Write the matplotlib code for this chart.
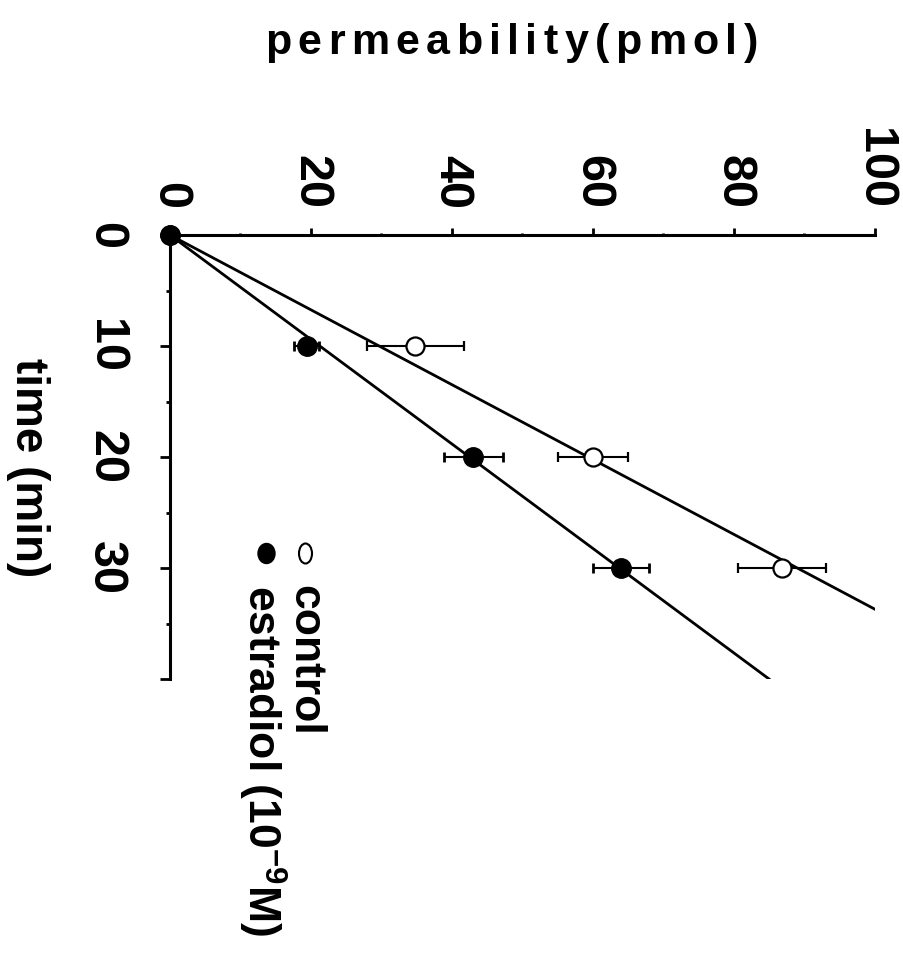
import numpy as np
import matplotlib
matplotlib.use("Agg")
import matplotlib.pyplot as plt
from matplotlib.markers import MarkerStyle
from matplotlib.transforms import Affine2D

plt.rcParams['font.family'] = ['Liberation Sans', 'DejaVu Sans']
plt.rcParams['font.weight'] = 'bold'
plt.rcParams['mathtext.fontset'] = 'custom'
plt.rcParams['mathtext.rm'] = 'Liberation Sans:bold'
plt.rcParams['mathtext.it'] = 'Liberation Sans:bold'
plt.rcParams['mathtext.bf'] = 'Liberation Sans:bold'

# data (time in min, permeability in pmol)
time_min = [0, 10, 20, 30]
control = [0, 34.8, 60.0, 86.8]
control_err = [0, 6.9, 5.0, 6.3]
estradiol = [0, 19.4, 43.0, 64.0]
estradiol_err = [0, 1.8, 4.2, 4.0]
fit_time = [0, 40]

W, H = 904, 964
fig = plt.figure(figsize=(W / 100, H / 100), dpi=100)
ax = fig.add_axes([170 / W, 1 - 679 / H, 705 / W, 444 / H])

# regression lines through the origin
t = np.array(time_min, dtype=float)
ft = np.array(fit_time, dtype=float)
for vals in (control, estradiol):
    v = np.array(vals, dtype=float)
    slope = (t * v).sum() / (t * t).sum()
    ax.plot(slope * ft, ft, color='black', lw=2, zorder=2)

eb1 = ax.errorbar(control, time_min, xerr=control_err, fmt='o', mfc='white', mec='black',
                  mew=1.6, ms=13, ecolor='black', elinewidth=1.5, capsize=3.5, capthick=2,
                  zorder=3)
eb2 = ax.errorbar(estradiol, time_min, xerr=estradiol_err, fmt='o', mfc='black', mec='black',
                  ms=14, ecolor='black', elinewidth=1.5, capsize=3.5, capthick=2, zorder=4)
for eb in (eb1, eb2):
    eb.lines[0].set_clip_on(False)

ax.set_xlim(0, 100)
ax.set_ylim(40, 0)
for s in ('right', 'bottom'):
    ax.spines[s].set_visible(False)
for s in ('top', 'left'):
    ax.spines[s].set_linewidth(2.2)

ax.xaxis.set_ticks_position('top')
ax.set_xticks(range(0, 101, 20))
ax.set_xticks([10, 30, 50, 70, 90], minor=True)
ax.set_yticks([0, 10, 20, 30, 40])
ax.set_yticklabels(['0', '10', '20', '30', ''])
ax.set_yticks([5, 15, 25, 35], minor=True)

ax.tick_params(axis='x', which='major', direction='out', length=5, width=2,
               pad=14, labelsize=35, labelrotation=-90)
ax.tick_params(axis='x', which='minor', direction='out', length=1.5, width=2)
ax.tick_params(axis='y', which='major', direction='out', length=7, width=2,
               pad=23, labelsize=35, labelrotation=-90)
ax.tick_params(axis='y', which='minor', direction='out', length=3, width=2)
for lbl in ax.get_yticklabels():
    lbl.set_va('center')

# title with wide letter spacing
title = 'permeability(pmol)'
r = fig.canvas.get_renderer()
chars, widths = [], []
for ch in title:
    tx = fig.text(0, 1 - 54 / H, ch, ha='left', va='baseline', fontsize=31)
    chars.append(tx)
    widths.append(tx.get_window_extent(r).width)
left, right = 265, 758
gap = (right - left - sum(widths)) / (len(title) - 1)
x = left
for tx, w in zip(chars, widths):
    tx.set_x(x / W)
    x += w + gap

fig.text(28 / W, 1 - 468 / H, 'time (min)', rotation=-90, ha='center', va='center',
         fontsize=33)

# legend
ax.plot([0.1915], [0.284], transform=ax.transAxes, clip_on=False, ls='none',
        marker=MarkerStyle('o', transform=Affine2D().scale(0.65, 1.0)),
        ms=14.4, mfc='white', mec='black', mew=1.5)
ax.plot([0.136], [0.284], transform=ax.transAxes, clip_on=False, ls='none',
        marker=MarkerStyle('o', transform=Affine2D().scale(0.85, 1.0)),
        ms=14.4, mfc='black', mec='black')
fig.text(305 / W, 1 - 585 / H, 'control', rotation=-90, ha='center', va='top',
         fontsize=32)
fig.text(262 / W, 1 - 585 / H, 'estradiol (10$^{-9}$M)', rotation=-90, ha='center',
         va='top', fontsize=32)

fig.savefig('out.png', dpi=100)
